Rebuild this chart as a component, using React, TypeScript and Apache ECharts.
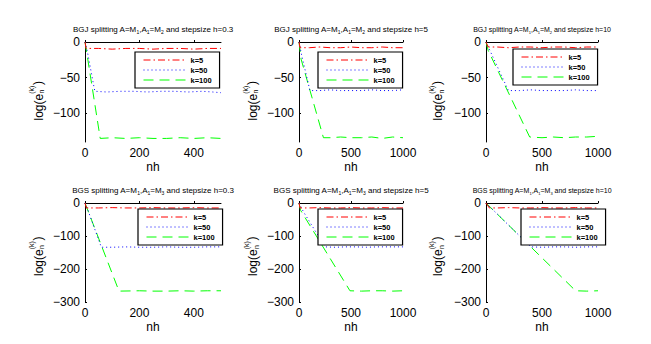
import React, { useEffect, useRef } from "react";
import * as echarts from "echarts";

const seriesNames = ["k=5", "k=50", "k=100"];

const plotTitles = [
  "BGJ splitting A=M{s|1},A{s|1}=M{s|2} and stepsize h=0.3",
  "BGJ splitting A=M{s|1},A{s|1}=M{s|2} and stepsize h=5",
  "BGJ splitting A=M{s|1},A{s|1}=M{s|2} and stepsize h=10",
  "BGS splitting A=M{s|1},A{s|1}=M{s|3} and stepsize h=0.3",
  "BGS splitting A=M{s|1},A{s|1}=M{s|3} and stepsize h=5",
  "BGS splitting A=M{s|1},A{s|1}=M{s|3} and stepsize h=10",
];

const xMaxes = [500, 1000, 1000, 500, 1000, 1000];
const yMins = [-140, -140, -140, -300, -300, -300];
const xTicksShort = [0, 200, 400];
const xTicksLong = [0, 500, 1000];
const yTicksTop = [-100, -50, 0];
const yTicksBottom = [-300, -200, -100, 0];

// BGJ, h = 0.3
const bgjH03K5 = [[0, 0], [4, -9], [50, -9], [100, -10], [150, -9], [200, -9], [250, -10], [300, -9], [350, -9], [400, -10], [450, -9], [500, -9]];
const bgjH03K50 = [[0, 0], [8, -12], [36, -69], [80, -70], [130, -69], [180, -69], [230, -70], [280, -69], [330, -69], [380, -70], [430, -69], [470, -70], [500, -71]];
const bgjH03K100 = [[0, 0], [6, -14], [56, -135], [100, -134], [150, -135], [200, -134], [250, -135], [300, -135], [350, -134], [400, -135], [450, -134], [500, -135]];
// BGJ, h = 5
const bgjH5K5 = [[0, 0], [10, -8], [100, -8], [200, -7], [300, -8], [400, -8], [500, -7], [600, -8], [700, -8], [800, -7], [900, -8], [1000, -8]];
const bgjH5K50 = [[0, 0], [25, -18], [105, -68], [200, -68], [300, -67], [400, -68], [500, -68], [600, -68], [700, -67], [800, -68], [900, -68], [1000, -67]];
const bgjH5K100 = [[0, 0], [20, -24], [235, -134], [300, -134], [400, -133], [500, -134], [600, -134], [700, -133], [800, -135], [900, -133], [1000, -134]];
// BGJ, h = 10
const bgjH10K5 = [[0, 0], [20, -7], [100, -7], [200, -8], [300, -7], [400, -7], [500, -8], [600, -7], [700, -7], [800, -8], [900, -7], [1000, -7]];
const bgjH10K50 = [[0, 0], [200, -68], [300, -68], [400, -67], [500, -68], [600, -68], [700, -68], [800, -67], [900, -68], [1000, -68]];
const bgjH10K100 = [[0, 0], [20, -12], [390, -133], [500, -134], [600, -133], [700, -134], [800, -133], [900, -133], [1000, -132]];
// BGS, h = 0.3
const bgsH03K5 = [[0, 0], [5, -15], [50, -15], [100, -14], [150, -15], [200, -15], [250, -14], [300, -15], [350, -15], [400, -14], [450, -15], [500, -15]];
const bgsH03K50 = [[0, 0], [10, -20], [60, -134], [100, -134], [150, -133], [200, -134], [250, -134], [300, -133], [350, -134], [400, -134], [450, -133], [500, -133]];
const bgsH03K100 = [[0, 0], [125, -267], [200, -266], [250, -267], [300, -267], [350, -266], [400, -267], [450, -266], [500, -266]];
// BGS, h = 5
const bgsH5K5 = [[0, 0], [10, -15], [100, -15], [200, -14], [300, -15], [400, -15], [500, -14], [600, -15], [700, -15], [800, -14], [900, -15], [1000, -15]];
const bgsH5K50 = [[0, 0], [40, -25], [250, -133], [350, -134], [450, -133], [550, -133], [650, -134], [750, -133], [850, -133], [1000, -133]];
const bgsH5K100 = [[0, 0], [15, -22], [490, -266], [600, -267], [700, -266], [800, -266], [900, -267], [1000, -266]];
// BGS, h = 10
const bgsH10K5 = [[0, 0], [30, -15], [100, -15], [200, -14], [300, -15], [400, -15], [500, -14], [600, -15], [700, -15], [800, -14], [900, -15], [1000, -15]];
const bgsH10K50 = [[0, 0], [400, -133], [500, -134], [600, -133], [700, -133], [800, -134], [900, -133], [1000, -133]];
const bgsH10K100 = [[0, 0], [800, -266], [900, -267], [1000, -266]];

const plotData = [
  [bgjH03K5, bgjH03K50, bgjH03K100],
  [bgjH5K5, bgjH5K50, bgjH5K100],
  [bgjH10K5, bgjH10K50, bgjH10K100],
  [bgsH03K5, bgsH03K50, bgsH03K100],
  [bgsH5K5, bgsH5K50, bgsH5K100],
  [bgsH10K5, bgsH10K50, bgsH10K100],
];

// layout (pixels)
const gridRects = [
  { left: 85, top: 42, width: 136, height: 100 },
  { left: 299, top: 42, width: 104, height: 100 },
  { left: 486, top: 42, width: 112, height: 100 },
  { left: 85, top: 203, width: 136, height: 99 },
  { left: 299, top: 203, width: 104, height: 99 },
  { left: 486, top: 203, width: 112, height: 99 },
];
const legendPos = [
  { left: 135, top: 52 },
  { left: 318, top: 52 },
  { left: 513, top: 49 },
  { left: 138, top: 209 },
  { left: 318, top: 209 },
  { left: 521, top: 209 },
];
const titleTops = [24, 24, 25, 185, 185, 186];
const titleSizes = [8, 8, 7, 8, 8, 7];
const ylabelPos = [
  [38.5, 98.5],
  [252.5, 98.5],
  [438, 98.5],
  [38.5, 254],
  [253, 254],
  [438, 254],
];

const colors = ["#ff0000", "#0000ff", "#00ff00"];
const dashes: number[][] = [
  [7, 3, 1.5, 3],
  [1, 3],
  [10, 6],
];

const FONT = "Liberation Sans, Arial, Helvetica, sans-serif";

export default function App() {
  const ref = useRef<HTMLDivElement>(null);
  useEffect(() => {
    if (!ref.current) return;
    const chart = echarts.init(ref.current, undefined, { renderer: "svg" });

    const titles = plotTitles.map((t, i) => {
      const g = gridRects[i];
      const fs = titleSizes[i];
      return {
        text: t,
        left: g.left + g.width / 2,
        top: titleTops[i],
        textAlign: "center",
        padding: 0,
        textStyle: {
          fontFamily: FONT,
          fontSize: fs,
          fontWeight: "normal",
          color: "#000",
          lineHeight: fs + 2,
          rich: {
            s: {
              fontFamily: FONT,
              fontSize: fs - 3,
              color: "#000",
              verticalAlign: "bottom",
              lineHeight: fs + 2,
              padding: [fs - 2, 0, 0, 0],
            },
          },
        },
      };
    });

    const grids = gridRects.map((g) => ({ ...g, containLabel: false }));

    const xAxes = gridRects.map((_, i) => {
      const ticks = xMaxes[i] === 500 ? xTicksShort : xTicksLong;
      return {
        type: "value",
        gridIndex: i,
        min: 0,
        max: xMaxes[i],
        name: "nh",
        nameLocation: "middle",
        nameGap: 19,
        nameTextStyle: { fontFamily: FONT, fontSize: 12, color: "#000" },
        axisLine: { show: true, lineStyle: { color: "#000", width: 1 } },
        axisTick: { show: true, inside: true, length: 2, customValues: ticks, lineStyle: { color: "#000" } },
        axisLabel: {
          customValues: ticks,
          fontFamily: FONT,
          fontSize: 12,
          color: "#000",
          margin: 5,
          formatter: (v: number) => String(v),
        },
        splitLine: { show: false },
      };
    });

    const yAxes = gridRects.map((_, i) => {
      const ticks = i < 3 ? yTicksTop : yTicksBottom;
      return {
        type: "value",
        gridIndex: i,
        min: yMins[i],
        max: 0,
        axisLine: { show: true, lineStyle: { color: "#000", width: 1 } },
        axisTick: { show: true, inside: true, length: 2, customValues: ticks, lineStyle: { color: "#000" } },
        axisLabel: {
          customValues: ticks,
          fontFamily: FONT,
          fontSize: 12,
          color: "#000",
          margin: 5,
          formatter: (v: number) => (v < 0 ? "\u2212" + Math.abs(v) : String(v)),
        },
        splitLine: { show: false },
      };
    });

    const series: any[] = [];
    plotData.forEach((set, i) => {
      set.forEach((d, k) => {
        series.push({
          type: "line",
          name: seriesNames[k],
          xAxisIndex: i,
          yAxisIndex: i,
          data: d,
          symbol: "none",
          showSymbol: false,
          silent: true,
          itemStyle: { color: colors[k] },
          lineStyle: { color: colors[k], width: 1, type: dashes[k] },
          z: 3 - k,
        });
      });
    });

    const legends = legendPos.map((p) => ({
      left: p.left,
      top: p.top,
      orient: "vertical",
      data: seriesNames,
      itemWidth: 42,
      itemHeight: 8,
      itemGap: 2,
      padding: [4, 8, 4, 8],
      borderColor: "#000",
      borderWidth: 1.2,
      backgroundColor: "#fff",
      selectedMode: false,
      itemStyle: { opacity: 0 },
      lineStyle: { width: 1 },
      textStyle: { fontFamily: FONT, fontSize: 7.5, fontWeight: "bold", color: "#000", lineHeight: 8 },
    }));

    const graphics = ylabelPos.map(([x, y]) => ({
      type: "group",
      x,
      y,
      rotation: Math.PI / 2,
      children: [
        { type: "text", x: -22, y: 0, style: { text: "log(e", font: `12px ${FONT}`, fill: "#000", align: "left", verticalAlign: "middle" } },
        { type: "text", x: 4.7, y: -7, style: { text: "(k)", font: `7px ${FONT}`, fill: "#000", align: "left", verticalAlign: "middle" } },
        { type: "text", x: 5, y: 3, style: { text: "n", font: `7px ${FONT}`, fill: "#000", align: "left", verticalAlign: "middle" } },
        { type: "text", x: 13.5, y: -1, style: { text: ")", font: `12px ${FONT}`, fill: "#000", align: "left", verticalAlign: "middle" } },
      ],
    }));

    chart.setOption({
      animation: false,
      backgroundColor: "#fff",
      title: titles,
      grid: grids,
      xAxis: xAxes,
      yAxis: yAxes,
      legend: legends,
      series,
      graphic: graphics,
    } as any);

    return () => chart.dispose();
  }, []);

  return (
    <div
      ref={ref}
      style={{ position: "fixed", left: 0, top: 0, width: 651, height: 344, background: "#fff" }}
    />
  );
}
